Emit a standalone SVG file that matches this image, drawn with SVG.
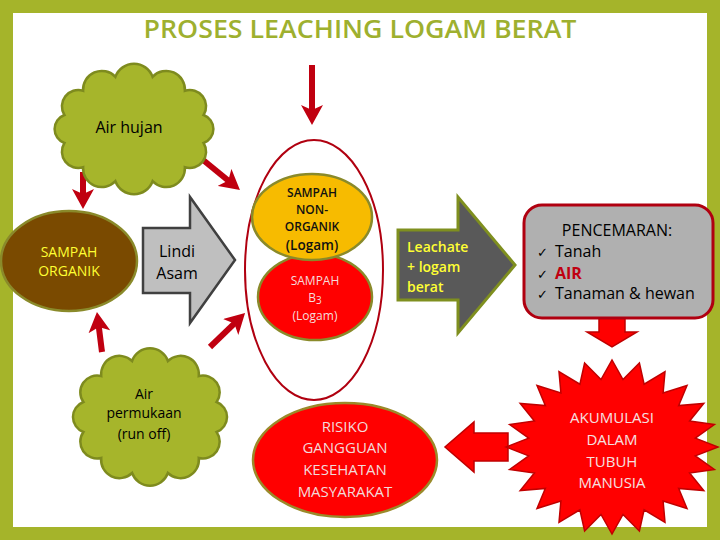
<svg xmlns="http://www.w3.org/2000/svg" width="720" height="540" viewBox="0 0 720 540">
<style>
.t{font-family:"Open Sans","DejaVu Sans",sans-serif;text-anchor:middle}
.cloud{fill:#A6B52B;stroke:#7E8B1E;stroke-width:2.5}
.ol{stroke:#8A8A2A;stroke-width:2.5}
.thin{stroke:#C00010;stroke-width:6;fill:none;marker-end:url(#ah)}
</style>
<defs>
<marker id="ah" markerUnits="userSpaceOnUse" viewBox="0 0 20 22" refX="6" refY="11" markerWidth="20" markerHeight="22" orient="auto">
<path d="M0,0 L20,11 L0,22 L5,11 Z" fill="#C00010"/>
</marker>
</defs>
<rect x="6.5" y="6.5" width="707" height="527" fill="#FFFFFF" stroke="#A5B42A" stroke-width="13"/>
<text id="title" class="t" x="360" y="38" font-size="25" font-weight="600" fill="#9EB02F" textLength="433" lengthAdjust="spacingAndGlyphs">PROSES LEACHING LOGAM BERAT</text>

<g id="connectors">
<line class="thin" x1="83" y1="172" x2="83" y2="195"/>
<line class="thin" x1="197" y1="155" x2="229.1" y2="181.2"/>
<line class="thin" x1="312" y1="65" x2="312" y2="111"/>
<line class="thin" x1="102" y1="352" x2="98.7" y2="325.9"/>
<line class="thin" x1="210" y1="347" x2="235" y2="322.8"/>
<polygon id="arrow-down" points="599,318 625,318 625,332 637,332 612,347 587,332 599,332" fill="#FF0000" stroke="#C00000" stroke-width="1.5"/>
<polygon id="arrow-left" points="508,433 474,433 474,422 445,447 474,472 474,461 508,461" fill="#FF0000" stroke="#C00000" stroke-width="1.5"/>
</g>

<g id="air-hujan">
<path class="cloud" d="M203.6,143 A16.3,16.3 0 0 1 184.9,167.2 A18.7,18.7 0 0 1 152.6,181.2 A19.8,19.8 0 0 1 115.4,181.2 A18.7,18.7 0 0 1 83.1,167.2 A16.3,16.3 0 0 1 64.4,143 A14.9,14.9 0 0 1 64.4,115 A16.3,16.3 0 0 1 83.1,90.8 A18.7,18.7 0 0 1 115.4,76.8 A19.8,19.8 0 0 1 152.6,76.8 A18.7,18.7 0 0 1 184.9,90.8 A16.3,16.3 0 0 1 203.6,115 A14.9,14.9 0 0 1 203.6,143 Z"/>
<text class="t" x="129" y="133" font-size="16" fill="#000">Air hujan</text>
</g>

<g id="sampah-organik">
<ellipse class="ol" cx="69" cy="261" rx="68" ry="50" fill="#7A4A00"/>
<text class="t" x="69" y="257" font-size="14" fill="#FFFF33">SAMPAH</text>
<text class="t" x="69" y="276" font-size="14" fill="#FFFF33">ORGANIK</text>
</g>

<g id="lindi-asam">
<polygon points="143,228 190,228 190,197 235,260 190,323 190,293 143,293" fill="#BFBFBF" stroke="#404040" stroke-width="2.5"/>
<text class="t" x="177" y="257" font-size="16" fill="#000">Lindi</text>
<text class="t" x="177" y="279" font-size="16" fill="#000">Asam</text>
</g>

<g id="sampah-group">
<ellipse cx="314" cy="270" rx="69" ry="130" fill="none" stroke="#B00010" stroke-width="2"/>
</g>

<g id="sampah-b3">
<ellipse class="ol" cx="315" cy="297" rx="57" ry="43" fill="#FF0000"/>
<text class="t" x="315" y="285" font-size="12" fill="#F5DCDC">SAMPAH</text>
<text class="t" x="315" y="302" font-size="12" fill="#F5DCDC">B<tspan font-size="10" dy="2">3</tspan></text>
<text class="t" x="315" y="320" font-size="12" fill="#F5DCDC">(Logam)</text>
</g>

<g id="sampah-non-organik">
<ellipse class="ol" cx="312" cy="217" rx="60" ry="43" fill="#F7BB00"/>
<text class="t" x="312" y="197" font-size="12" font-weight="600" fill="#111">SAMPAH</text>
<text class="t" x="312" y="214" font-size="12" font-weight="600" fill="#111">NON-</text>
<text class="t" x="312" y="231" font-size="12" font-weight="600" fill="#111">ORGANIK</text>
<text class="t" x="312" y="250" font-size="13.5" font-weight="600" fill="#111">(Logam)</text>
</g>

<g id="leachate">
<polygon points="398,230 458,230 458,197 515,265 458,333 458,300 398,300" fill="#595959" stroke="#7F8F1F" stroke-width="3"/>
<text x="407" y="252" font-family="Open Sans, DejaVu Sans, sans-serif" font-size="14" font-weight="600" fill="#FFFF33">Leachate</text>
<text x="407" y="272" font-family="Open Sans, DejaVu Sans, sans-serif" font-size="14" font-weight="600" fill="#FFFF33">+ logam</text>
<text x="407" y="292" font-family="Open Sans, DejaVu Sans, sans-serif" font-size="14" font-weight="600" fill="#FFFF33">berat</text>
</g>

<g id="pencemaran">
<rect x="524" y="205" width="189" height="113" rx="18" fill="#B0B0B0" stroke="#B00010" stroke-width="3"/>
<text class="t" x="617" y="236" font-size="16" fill="#000">PENCEMARAN:</text>
<g font-family="Open Sans, DejaVu Sans, sans-serif" font-size="16">
<text x="537" y="257" font-family="DejaVu Sans, sans-serif" font-size="13" fill="#000">✓</text>
<text x="555" y="257" fill="#000">Tanah</text>
<text x="537" y="279" font-family="DejaVu Sans, sans-serif" font-size="13" fill="#000">✓</text>
<text x="555" y="279" fill="#C00010" font-weight="bold">AIR</text>
<text x="537" y="299" font-family="DejaVu Sans, sans-serif" font-size="13" fill="#000">✓</text>
<text x="555" y="299" fill="#000">Tanaman &amp; hewan</text>
</g>
</g>

<g id="air-permukaan">
<path class="cloud" d="M216.6,432 A16.8,16.8 0 0 1 198.8,458 A18.3,18.3 0 0 1 167.9,473 A19,19 0 0 1 132.1,473 A18.3,18.3 0 0 1 101.2,458 A16.8,16.8 0 0 1 83.4,432 A16,16 0 0 1 83.4,402 A16.8,16.8 0 0 1 101.2,376 A18.3,18.3 0 0 1 132.1,361 A19,19 0 0 1 167.9,361 A18.3,18.3 0 0 1 198.8,376 A16.8,16.8 0 0 1 216.6,402 A16,16 0 0 1 216.6,432 Z"/>
<text class="t" x="144" y="399" font-size="14" fill="#000">Air</text>
<text class="t" x="144" y="418" font-size="14" fill="#000">permukaan</text>
<text class="t" x="144" y="439" font-size="14" fill="#000">(run off)</text>
</g>

<g id="risiko">
<ellipse cx="345" cy="460" rx="92" ry="57" fill="#FF0000" stroke="#9A8A2A" stroke-width="2.5"/>
<text class="t" x="345" y="432" font-size="15" fill="#F2DADA">RISIKO</text>
<text class="t" x="345" y="453" font-size="15" fill="#F2DADA">GANGGUAN</text>
<text class="t" x="345" y="475" font-size="15" fill="#F2DADA">KESEHATAN</text>
<text class="t" x="345" y="497" font-size="15" fill="#F2DADA">MASYARAKAT</text>
</g>

<g id="akumulasi">
<polygon points="718,447 695.3,455.9 714.4,469.5 689.6,473 703.8,490.5 678.6,488.4 687,508.5 663.1,501 665,522.3 644.1,509.8 639.4,531 623,514.4 612,534 601,514.4 584.6,531 579.9,509.8 559,522.3 560.9,501 537,508.5 545.4,488.4 520.2,490.5 534.4,473 509.6,469.5 528.7,455.9 506,447 528.7,438.1 509.6,424.5 534.4,421 520.2,403.5 545.4,405.6 537,385.5 560.9,393 559,371.7 579.9,384.2 584.6,363 601,379.6 612,360 623,379.6 639.4,363 644.1,384.2 665,371.7 663.1,393 687,385.5 678.6,405.6 703.8,403.5 689.6,421 714.4,424.5 695.3,438.1" fill="#FF0000" stroke="#C00000" stroke-width="1.5"/>
<text class="t" x="612" y="423" font-size="15" fill="#F5E0E0">AKUMULASI</text>
<text class="t" x="612" y="445" font-size="15" fill="#F5E0E0">DALAM</text>
<text class="t" x="612" y="467" font-size="15" fill="#F5E0E0">TUBUH</text>
<text class="t" x="612" y="488" font-size="15" fill="#F5E0E0">MANUSIA</text>
</g>
</svg>
